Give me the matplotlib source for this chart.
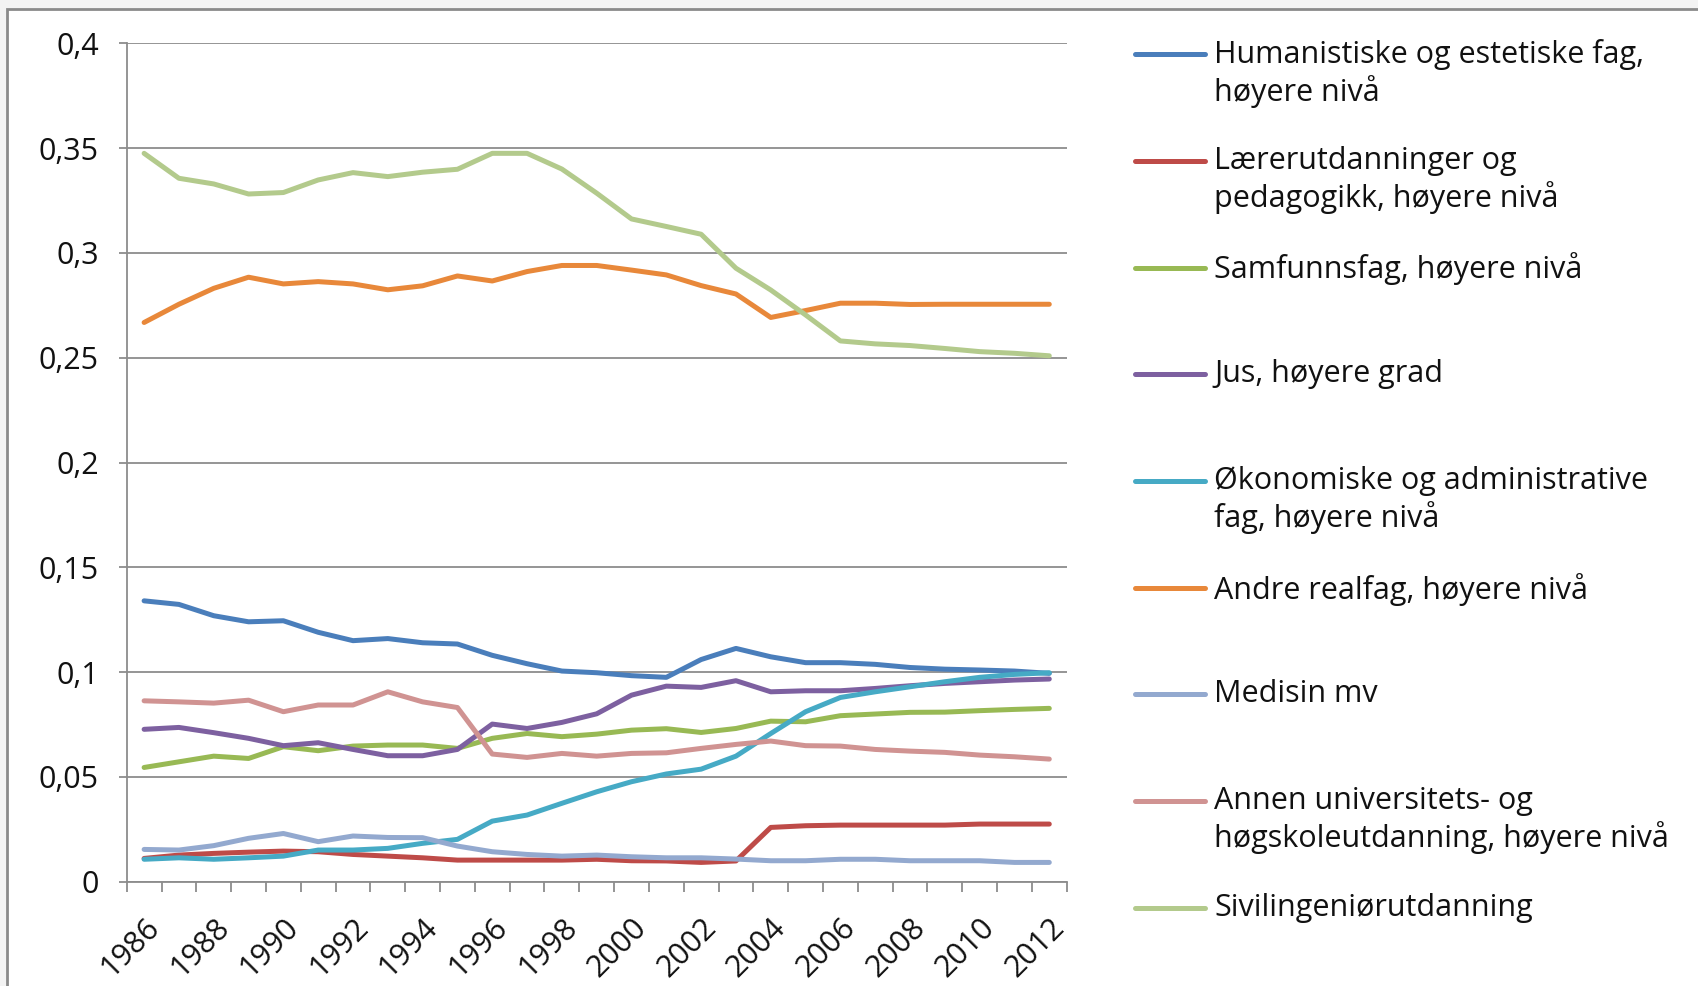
import matplotlib
matplotlib.use("Agg")
import matplotlib.pyplot as plt
from matplotlib.lines import Line2D
from matplotlib.patches import Rectangle

years = list(range(1986, 2013))
xtick_labels = [str(y) for y in range(1986, 2013, 2)]
ytick_values = [0, 0.05, 0.1, 0.15, 0.2, 0.25, 0.3, 0.35, 0.4]
ytick_labels = ["0", "0,05", "0,1", "0,15", "0,2", "0,25", "0,3", "0,35", "0,4"]

humanistiske = [0.134, 0.1323, 0.1269, 0.124, 0.1245, 0.119, 0.115, 0.116, 0.114, 0.1134,
                0.108, 0.104, 0.1005, 0.0997, 0.0983, 0.0975, 0.106, 0.1113, 0.1073, 0.1045,
                0.1045, 0.1037, 0.1022, 0.1014, 0.101, 0.1005, 0.0994]
laerer = [0.0111, 0.0127, 0.0135, 0.0141, 0.0146, 0.0143, 0.013, 0.0122, 0.0114, 0.0103,
          0.0103, 0.0103, 0.0103, 0.0107, 0.010, 0.0099, 0.0092, 0.0099, 0.0259, 0.0267,
          0.027, 0.027, 0.027, 0.027, 0.0275, 0.0275, 0.0275]
samfunn = [0.0545, 0.0572, 0.0599, 0.0588, 0.0644, 0.0625, 0.0647, 0.0652, 0.0652, 0.0636,
           0.0684, 0.0707, 0.0692, 0.0704, 0.0723, 0.073, 0.0712, 0.0731, 0.0766, 0.0763,
           0.0792, 0.080, 0.0808, 0.0809, 0.0816, 0.0822, 0.0827]
jus = [0.0727, 0.0736, 0.0711, 0.0684, 0.0649, 0.0663, 0.0631, 0.0601, 0.0601, 0.0631,
       0.0752, 0.0731, 0.076, 0.0801, 0.089, 0.0933, 0.0927, 0.0959, 0.0906, 0.0911,
       0.0911, 0.0922, 0.0935, 0.0946, 0.0954, 0.0962, 0.0967]
okonomi = [0.0107, 0.0114, 0.0107, 0.0114, 0.0122, 0.0151, 0.0151, 0.0159, 0.0183, 0.0202,
           0.0289, 0.0318, 0.0374, 0.0429, 0.0477, 0.0514, 0.0537, 0.0599, 0.0707, 0.0811,
           0.0879, 0.0906, 0.093, 0.0954, 0.0975, 0.0989, 0.0997]
andre_realfag = [0.2668, 0.2755, 0.2831, 0.2884, 0.2852, 0.2863, 0.2852, 0.2824, 0.2843, 0.289,
                 0.2866, 0.2911, 0.294, 0.294, 0.2918, 0.2895, 0.2844, 0.2804, 0.2692, 0.2725,
                 0.276, 0.276, 0.2754, 0.2755, 0.2755, 0.2755, 0.2755]
medisin = [0.0154, 0.0151, 0.0172, 0.0207, 0.023, 0.0191, 0.0218, 0.0211, 0.021, 0.017,
           0.0143, 0.013, 0.0122, 0.0127, 0.0119, 0.0114, 0.0114, 0.0108, 0.010, 0.010,
           0.0107, 0.0107, 0.010, 0.010, 0.010, 0.0092, 0.0092]
annen = [0.0863, 0.0858, 0.0852, 0.0866, 0.0811, 0.0843, 0.0843, 0.0906, 0.0858, 0.0831,
         0.0609, 0.0593, 0.0612, 0.0599, 0.0612, 0.0615, 0.0636, 0.0655, 0.0671, 0.0649,
         0.0647, 0.0631, 0.0623, 0.0617, 0.0604, 0.0596, 0.0585]
sivilingenior = [0.3475, 0.3356, 0.3329, 0.3281, 0.3288, 0.3348, 0.3383, 0.3364, 0.3385, 0.3399,
                 0.3475, 0.3475, 0.340, 0.3285, 0.3162, 0.3126, 0.3089, 0.2927, 0.2823, 0.2704,
                 0.258, 0.2566, 0.2558, 0.2544, 0.2529, 0.2521, 0.2509]

series_names = [
    "Humanistiske og estetiske fag,\nhøyere nivå",
    "Lærerutdanninger og\npedagogikk, høyere nivå",
    "Samfunnsfag, høyere nivå",
    "Jus, høyere grad",
    "Økonomiske og administrative\nfag, høyere nivå",
    "Andre realfag, høyere nivå",
    "Medisin mv",
    "Annen universitets- og\nhøgskoleutdanning, høyere nivå",
    "Sivilingeniørutdanning",
]
series_values = [humanistiske, laerer, samfunn, jus, okonomi, andre_realfag, medisin, annen, sivilingenior]
colors = ["#4A7EBB", "#BE4B48", "#98B954", "#7D60A0", "#46AAC5", "#E8883A",
          "#93A9CF", "#D09392", "#B3CA8C"]

plt.rcParams['font.family'] = ['Open Sans', 'DejaVu Sans']

FS = 22
W, H = 1698, 986
fig = plt.figure(figsize=(W / 100, H / 100), dpi=100)
fig.patch.set_facecolor("#f3f3f3")
fig.add_artist(Rectangle((7 / W, -0.02), 1.0, 1 - 9 / H + 0.02, transform=fig.transFigure,
                         facecolor="white", edgecolor="#8a8a8a", linewidth=2.0, zorder=0))

left, right, top, bottom = 126.7, 1066.7, 43.3, 881.7
ax = fig.add_axes([left / W, 1 - bottom / H, (right - left) / W, (bottom - top) / H])
ax.set_facecolor("none")

x = list(range(len(years)))
for vals, c in zip(series_values, colors):
    ax.plot(x, vals, color=c, linewidth=3.6, solid_capstyle="round", solid_joinstyle="round", zorder=3)

ax.set_xlim(-0.5, len(years) - 0.5)
ax.set_ylim(0, 0.4)
ax.set_yticks(ytick_values)
ax.set_yticklabels(ytick_labels)
ax.yaxis.grid(True, color="#8c8c8c", linewidth=1.3)
ax.set_axisbelow(True)

ax.set_xticks(list(range(0, len(years), 2)))
ax.set_xticklabels(xtick_labels, rotation=45, ha="right", va="top", rotation_mode="anchor")
ax.set_xticks([i - 0.5 for i in range(len(years) + 1)], minor=True)
ax.tick_params(axis="x", which="major", length=0, pad=22, labelsize=FS, colors="#111111")
ax.tick_params(axis="x", which="minor", length=7, width=1.3, color="#8c8c8c", direction="out")
ax.tick_params(axis="y", length=6, width=1.3, color="#8c8c8c", pad=14, labelsize=FS, labelcolor="#111111")

for s in ["top", "right"]:
    ax.spines[s].set_visible(False)
for s in ["left", "bottom"]:
    ax.spines[s].set_color("#8c8c8c")
    ax.spines[s].set_linewidth(1.3)

# Legend (manual layout similar to Excel)
line_x0, line_x1, text_x = 1135, 1205, 1214
y0, dy = 54.1, 106.7
for i, (name, c) in enumerate(zip(series_names, colors)):
    yl = y0 + i * dy
    fig.add_artist(Line2D([line_x0 / W, line_x1 / W], [1 - yl / H, 1 - yl / H],
                          transform=fig.transFigure, color=c, linewidth=3.6,
                          solid_capstyle="round"))
    fig.text(text_x / W, 1 - (yl - 15) / H, name, ha="left", va="top", fontsize=FS,
             color="#111111", linespacing=1.2)

fig.savefig("out.png", dpi=100, facecolor=fig.get_facecolor())
